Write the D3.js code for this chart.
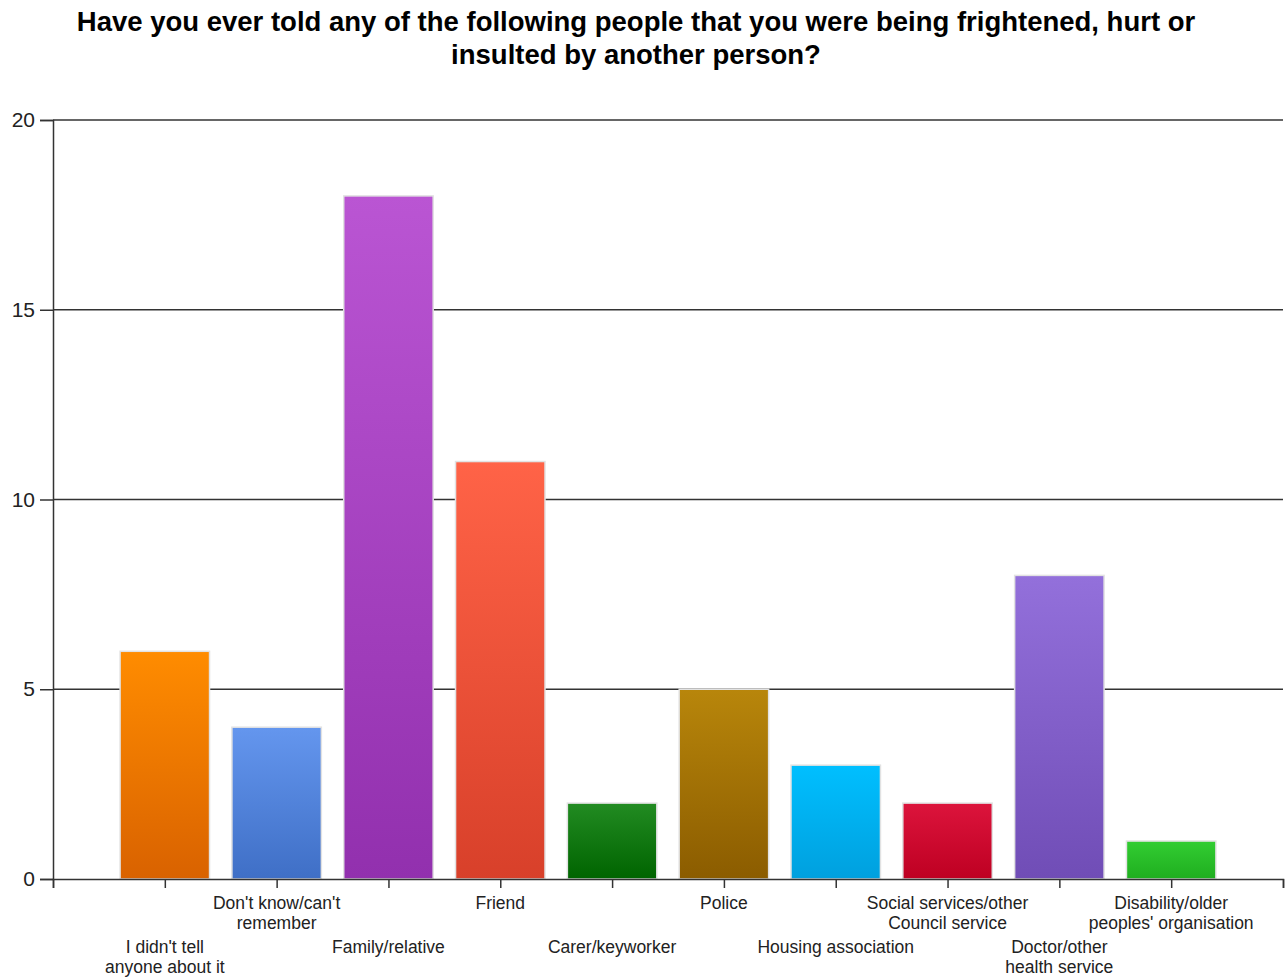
<!DOCTYPE html>
<html>
<head>
<meta charset="utf-8">
<script src="https://cdn.jsdelivr.net/npm/d3@7"></script>
<style>
  body { margin: 0; background: #fff; }
  text { font-family: "Liberation Sans", Arial, sans-serif; }
</style>
</head>
<body>
<div id="chart"></div>
<script>
// chart size and plot area
const width = 1288;
const height = 978;
const margin = {left: 53, right: 5, top: 120, bottom: 99};

// data
const categories = [
  ["I didn't tell", "anyone about it"],
  ["Don't know/can't", "remember"],
  ["Family/relative"],
  ["Friend"],
  ["Carer/keyworker"],
  ["Police"],
  ["Housing association"],
  ["Social services/other", "Council service"],
  ["Doctor/other", "health service"],
  ["Disability/older", "peoples' organisation"]
];
const values = [6, 4, 18, 11, 2, 5, 3, 2, 8, 1];
const yTicks = [0, 5, 10, 15, 20];
// top / bottom colour of each bar's gradient
const colorsTop = ["#ff8c00", "#6496ee", "#ba55d3", "#ff6347", "#228b22", "#b8860b", "#00bfff", "#dc143c", "#9370db", "#32cd32"];
const colorsBottom = ["#d96200", "#3f6fc6", "#9230ae", "#d8402a", "#006400", "#8b5c00", "#00a0de", "#be0022", "#704db6", "#1fae1f"];

const svg = d3.select("#chart")
  .append("svg")
  .attr("width", width)
  .attr("height", height);

const defs = svg.append("defs");
values.forEach((v, i) => {
  const g = defs.append("linearGradient")
    .attr("id", "grad" + i)
    .attr("x1", 0).attr("y1", 0).attr("x2", 0).attr("y2", 1);
  g.append("stop").attr("offset", "0%").attr("stop-color", colorsTop[i]);
  g.append("stop").attr("offset", "100%").attr("stop-color", colorsBottom[i]);
});

// title
svg.append("text")
  .attr("x", 636)
  .attr("text-anchor", "middle")
  .attr("font-size", "27.5px")
  .attr("font-weight", "bold")
  .attr("fill", "#000")
  .selectAll("tspan")
  .data(["Have you ever told any of the following people that you were being frightened, hurt or",
         "insulted by another person?"])
  .enter()
  .append("tspan")
  .attr("x", 636)
  .attr("y", (d, i) => 31 + i * 33)
  .text(d => d);

// scales: slots 0..11, categories sit on 1..10
const xScale = d3.scaleLinear()
  .domain([0, categories.length + 1])
  .range([margin.left, width - margin.right]);

const yScale = d3.scaleLinear()
  .domain([0, 20])
  .range([height - margin.bottom, margin.top]);

const slot = xScale(1) - xScale(0);
const barW = slot * 0.8;

// horizontal grid lines
svg.append("g")
  .selectAll("line")
  .data(yTicks.filter(d => d > 0))
  .enter()
  .append("line")
  .attr("x1", margin.left)
  .attr("x2", width - margin.right)
  .attr("y1", d => yScale(d))
  .attr("y2", d => yScale(d))
  .attr("stroke", "#333")
  .attr("stroke-width", 1.5);

// bars
svg.selectAll(".bar")
  .data(values)
  .enter()
  .append("rect")
  .attr("class", "bar")
  .attr("x", (d, i) => xScale(i + 1) - barW / 2)
  .attr("y", d => yScale(d))
  .attr("width", barW)
  .attr("height", d => yScale(0) - yScale(d))
  .attr("fill", (d, i) => "url(#grad" + i + ")")
  .attr("stroke", "#e2e2e2")
  .attr("stroke-width", 1.5);

// y axis
const yAxis = svg.append("g")
  .attr("transform", `translate(${margin.left},0)`)
  .call(d3.axisLeft(yScale).tickValues(yTicks).tickSize(13).tickPadding(5));
yAxis.select(".domain").attr("stroke", "#333").attr("stroke-width", 1.5);
yAxis.selectAll(".tick line").attr("stroke", "#333").attr("stroke-width", 1.5);
yAxis.selectAll(".tick text")
  .attr("font-size", "21px")
  .attr("font-family", "Liberation Sans, Arial, sans-serif")
  .attr("fill", "#222");

// x axis
const xAxis = svg.append("g")
  .attr("transform", `translate(0,${yScale(0)})`)
  .call(d3.axisBottom(xScale).tickValues(d3.range(0, categories.length + 2)).tickSize(9).tickFormat(""));
xAxis.select(".domain").attr("stroke", "#333").attr("stroke-width", 1.5);
xAxis.selectAll(".tick line").attr("stroke", "#333").attr("stroke-width", 1.5);

// category labels, staggered into two rows
const labels = svg.append("g")
  .selectAll("text")
  .data(categories)
  .enter()
  .append("text")
  .attr("text-anchor", "middle")
  .attr("font-size", "17.5px")
  .attr("fill", "#222");

labels.selectAll("tspan")
  .data((d, i) => d.map(line => ({line, i})))
  .enter()
  .append("tspan")
  .attr("x", d => xScale(d.i + 1))
  .attr("y", (d, j) => (d.i % 2 === 1 ? 909 : 953) + j * 20)
  .text(d => d.line);
</script>
</body>
</html>
